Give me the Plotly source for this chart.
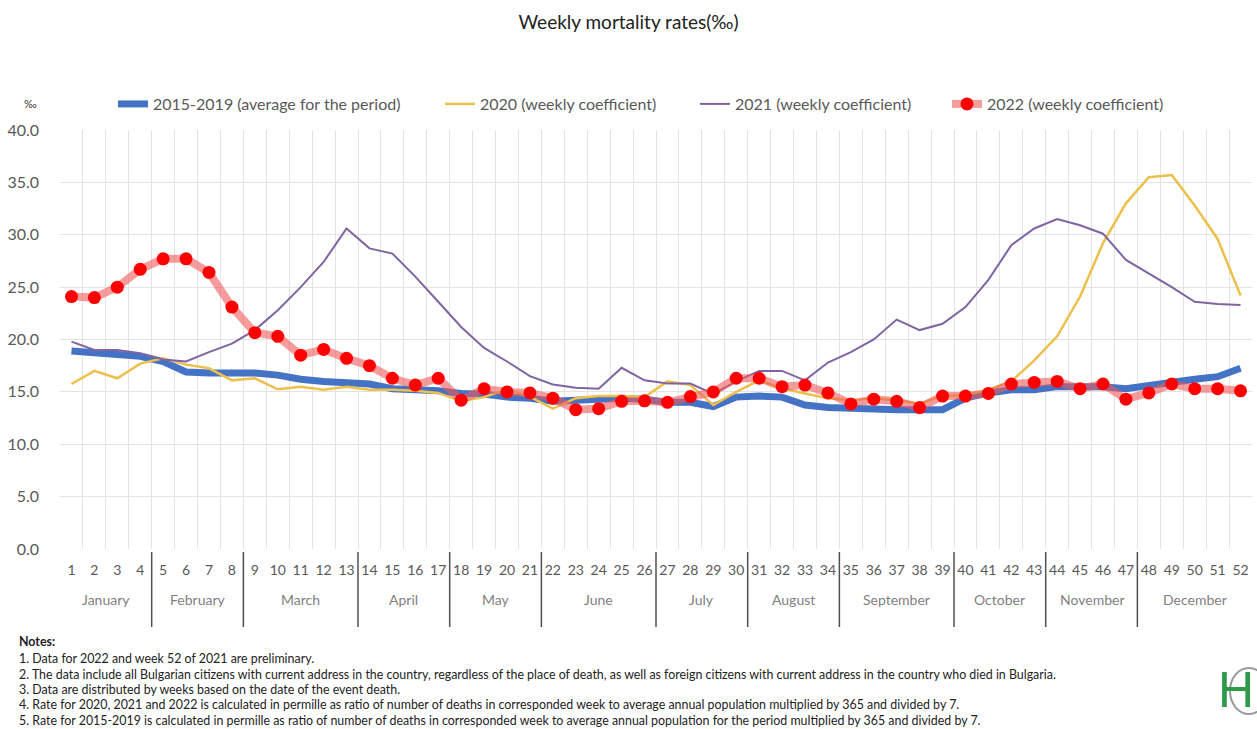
import plotly.graph_objects as go

weeks = list(range(1, 53))

avg_2015_2019 = [18.9, 18.75, 18.6, 18.4, 17.9, 16.9, 16.8, 16.8, 16.8, 16.6,
                 16.2, 16.0, 15.9, 15.75, 15.3, 15.25, 15.1, 14.85, 14.8, 14.5,
                 14.4, 14.1, 14.2, 14.2, 14.4, 14.3, 14.0, 14.0, 13.6, 14.5,
                 14.6, 14.5, 13.75, 13.5, 13.4, 13.3, 13.3, 13.3, 13.3, 14.4,
                 14.9, 15.2, 15.2, 15.5, 15.5, 15.5, 15.3, 15.65, 15.9, 16.2,
                 16.45, 17.25]

y2020 = [15.75, 17.0, 16.3, 17.7, 18.2, 17.6, 17.25, 16.1, 16.3, 15.25,
         15.5, 15.2, 15.5, 15.2, 15.2, 15.1, 14.9, 14.1, 14.5, 15.25,
         14.55, 13.4, 14.4, 14.6, 14.6, 14.5, 16.0, 15.65, 13.75, 15.0,
         16.1, 15.35, 14.85, 14.4, 14.2, 14.4, 14.2, 13.9, 14.6, 14.7,
         15.2, 16.0, 18.0, 20.3, 24.1, 29.2, 33.0, 35.5, 35.7, 32.8,
         29.6, 24.2]

y2021 = [19.8, 19.0, 19.0, 18.7, 18.1, 17.9, 18.8, 19.6, 20.9, 22.8,
         25.0, 27.4, 30.6, 28.7, 28.2, 26.0, 23.6, 21.2, 19.2, 17.9,
         16.5, 15.7, 15.4, 15.3, 17.3, 16.1, 15.8, 15.8, 14.8, 16.0,
         17.0, 17.0, 16.1, 17.8, 18.8, 20.0, 21.9, 20.9, 21.5, 23.1,
         25.7, 29.0, 30.6, 31.5, 30.9, 30.1, 27.6, 26.3, 25.0, 23.6,
         23.4, 23.3]

y2022 = [24.1, 24.0, 25.0, 26.7, 27.7, 27.7, 26.4, 23.1, 20.65, 20.3,
         18.5, 19.05, 18.2, 17.5, 16.3, 15.65, 16.3, 14.2, 15.3, 15.0,
         14.9, 14.4, 13.3, 13.4, 14.1, 14.15, 14.0, 14.55, 15.0, 16.3,
         16.3, 15.5, 15.65, 14.9, 13.85, 14.3, 14.1, 13.5, 14.6, 14.6,
         14.85, 15.75, 15.9, 16.0, 15.3, 15.75, 14.3, 14.9, 15.75, 15.3,
         15.3, 15.1]

months = ["January", "February", "March", "April", "May", "June", "July",
          "August", "September", "October", "November", "December"]
weeks_per_month = [4, 4, 5, 4, 4, 5, 4, 4, 5, 4, 4, 5]

notes = [
    "1. Data for 2022 and week 52 of 2021 are preliminary.",
    "2. The data include all Bulgarian citizens with current address in the country, regardless of the place of death, as well as foreign citizens with current address in the country who died in Bulgaria.",
    "3. Data are distributed by weeks based on the date of the event death.",
    "4. Rate for 2020, 2021 and 2022 is calculated in permille as ratio of number of deaths in corresponded week to average annual population multiplied by 365 and divided by 7.",
    "5. Rate for 2015-2019 is calculated in permille as ratio of number of deaths in corresponded week to average annual population for the period multiplied by 365 and divided by 7.",
]

FONT = "Lato, 'Open Sans', sans-serif"
GRAY = "#595959"

# plot area in pixels (left, right, top, bottom)
PL, PR, PT, PB = 60, 1252, 130, 549
PW, PH = PR - PL, PB - PT


def px_x(px):
    return (px - PL) / PW


def px_y(py):
    return (PB - py) / PH


fig = go.Figure()
fig.add_trace(go.Scatter(x=weeks, y=avg_2015_2019, mode="lines",
                         name="2015-2019 (average for the period)",
                         legend="legend",
                         line=dict(color="#4472C4", width=7)))
fig.add_trace(go.Scatter(x=weeks, y=y2020, mode="lines",
                         name="2020 (weekly coefficient)", legend="legend2",
                         line=dict(color="#EDC04C", width=2.5)))
fig.add_trace(go.Scatter(x=weeks, y=y2021, mode="lines",
                         name="2021 (weekly coefficient)", legend="legend3",
                         line=dict(color="#8064A2", width=2)))
fig.add_trace(go.Scatter(x=weeks, y=y2022, mode="lines+markers",
                         name="2022 (weekly coefficient)", legend="legend4",
                         line=dict(color="rgba(240,90,90,0.6)", width=8),
                         marker=dict(color="#FF0000", size=13)))

# month labels and separators
start = 0.5
for m, n in zip(months, weeks_per_month):
    end = start + n
    fig.add_annotation(x=(start + end) / 2, y=px_y(599), xref="x", yref="paper",
                       text=m, showarrow=False, yanchor="middle",
                       font=dict(family=FONT, size=14, color="#7f7f7f"))
    if end < 52.5:
        fig.add_shape(type="line", xref="x", yref="paper", x0=end, x1=end,
                      y0=px_y(552), y1=px_y(627),
                      line=dict(color="#505050", width=1.5))
    start = end

# notes
fig.add_annotation(x=px_x(17), y=px_y(641), xref="paper", yref="paper",
                   text="<b>Notes:</b>", showarrow=False, xanchor="left",
                   yanchor="middle", font=dict(family=FONT, size=12.4, color="#222"))
note_y = [658, 674, 689, 704, 720]
for t, py in zip(notes, note_y):
    fig.add_annotation(x=px_x(17), y=px_y(py), xref="paper", yref="paper",
                       text=t, showarrow=False, xanchor="left", yanchor="middle",
                       font=dict(family=FONT, size=12.4, color="#222"))

# permille label
fig.add_annotation(x=px_x(30), y=px_y(103), xref="paper", yref="paper",
                   text="‰", showarrow=False, xanchor="center", yanchor="middle",
                   font=dict(family=FONT, size=11, color="#333"))

# logo approximation
fig.add_shape(type="circle", xref="paper", yref="paper",
              x0=px_x(1230), x1=px_x(1268), y0=px_y(714), y1=px_y(668),
              line=dict(color="#999", width=2))
fig.add_annotation(x=px_x(1236), y=px_y(690), xref="paper", yref="paper",
                   text="H", showarrow=False, xanchor="center", yanchor="middle",
                   font=dict(family="Liberation Sans", size=50, color="#2E9A4A"))

leg_common = dict(orientation="h", xanchor="left", yanchor="middle",
                  y=px_y(104), font=dict(family=FONT, size=16, color=GRAY),
                  itemwidth=30, bgcolor="rgba(0,0,0,0)")

fig.update_layout(
    width=1257, height=729,
    paper_bgcolor="white", plot_bgcolor="white",
    margin=dict(l=PL, r=1257 - PR, t=PT, b=729 - PB),
    title=dict(text="Weekly mortality rates(‰)", x=0.5, xref="container",
               y=1 - 22 / 729, yanchor="middle",
               font=dict(family=FONT, size=19, color="#222")),
    font=dict(family=FONT, color=GRAY),
    showlegend=True,
    legend=dict(x=px_x(113), **leg_common),
    legend2=dict(x=px_x(440), **leg_common),
    legend3=dict(x=px_x(695), **leg_common),
    legend4=dict(x=px_x(947), **leg_common),
    xaxis=dict(range=[0.5, 52.5], tickmode="array", tickvals=weeks,
               ticktext=[str(w) for w in weeks], showgrid=False, zeroline=False,
               ticks="", tickfont=dict(family=FONT, size=14, color=GRAY),
               ticklabelstandoff=11,
               minor=dict(tick0=0.5, dtick=1, showgrid=True,
                          gridcolor="#e3e3e3", gridwidth=1),
               showline=False),
    yaxis=dict(range=[0, 40], dtick=5, tickformat=".1f", showgrid=True,
               gridcolor="#e3e3e3", gridwidth=1, zeroline=False,
               tickfont=dict(family=FONT, size=16, color=GRAY),
               ticklabelstandoff=20, showline=False),
)

fig.write_html("out.html",
               config={"displayModeBar": False},
               post_script="document.body.style.margin='0px';"
                           "document.body.style.overflow='hidden';")
